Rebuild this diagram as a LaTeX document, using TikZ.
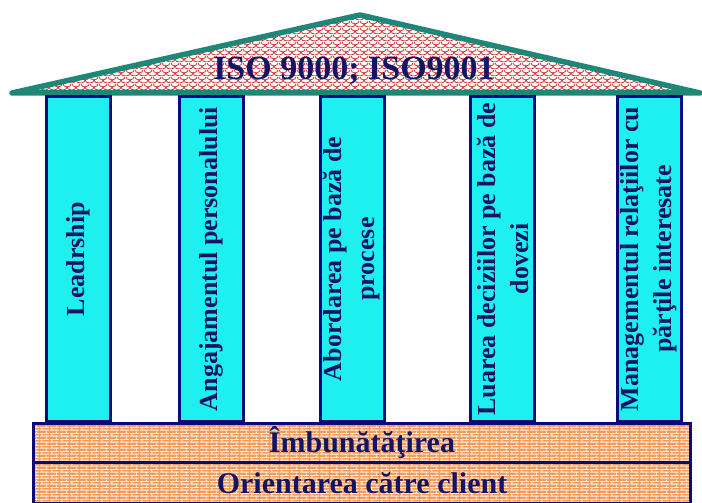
\documentclass[tikz,border=0pt]{standalone}
\usepackage{fontspec}
\setmainfont{Liberation Serif}
\usetikzlibrary{positioning, patterns.meta}
\definecolor{roofteal}{RGB}{30,135,120}
\definecolor{navy}{RGB}{10,10,120}
\definecolor{textnavy}{RGB}{20,20,100}
\definecolor{pillarcyan}{RGB}{30,240,240}
\definecolor{brickorange}{RGB}{245,155,90}
\definecolor{scalered}{RGB}{210,50,50}
\tikzdeclarepattern{
	name=scales, type=uncolored,
	bounding box={(0pt,0pt) and (9pt,7pt)},
	tile size={(9pt,7pt)},
	code={
		\draw[line width=0.9pt] (0pt,7pt) arc[start angle=180, end angle=360, x radius=4.5pt, y radius=3.5pt];
		\draw[line width=0.9pt] (-4.5pt,3.5pt) arc[start angle=180, end angle=360, x radius=4.5pt, y radius=3.5pt];
		\draw[line width=0.9pt] (4.5pt,3.5pt) arc[start angle=180, end angle=360, x radius=4.5pt, y radius=3.5pt];
	}
}
\tikzdeclarepattern{
	name=brickwall, type=uncolored,
	bounding box={(0pt,0pt) and (10pt,6pt)},
	tile size={(10pt,6pt)},
	code={
		\draw[line width=1pt] (0pt,1pt) -- (10pt,1pt) (0pt,4pt) -- (10pt,4pt)
			(2pt,1pt) -- (2pt,4pt) (7pt,4pt) -- (7pt,6pt) (7pt,0pt) -- (7pt,1pt);
	}
}
\tikzset{
	pillar/.style= {
		rectangle, rotate=90,
		draw=navy, line width=3pt,
		fill=pillarcyan,
		minimum width=325pt, minimum height=64pt,
		inner sep=1pt, align=center,
		text=textnavy, font=\bfseries\fontsize{26}{33}\selectfont
	},
	roof/.style= {
		draw=roofteal, line width=5.5pt, line join=round,
		pattern=scales, pattern color=scalered
	},
	foundation/.style= {
		rectangle, draw=navy, line width=3pt,
		preaction={fill=brickorange},
		pattern=brickwall, pattern color=white!85!brickorange,
		minimum width=657pt,
		text=textnavy, font=\bfseries\fontsize{30}{36}\selectfont
	},
	rooftext/.style= {
		anchor=base, text=textnavy,
		font=\bfseries\fontsize{34}{40}\selectfont
	},
}

\begin{document}
\begin{tikzpicture}[x=1pt, y=-1pt]
		\useasboundingbox (0,0) rectangle (702,503);
		\clip (0,0) rectangle (702,503);
		
		\coordinate (eaveL) at (12,93);
		\coordinate (ridge) at (360,15);
		\coordinate (eaveR) at (700,93);
		\draw[roof] (eaveL) -- (ridge) -- (eaveR) -- cycle;
		\node (iso) [rooftext] at (354,80) {ISO 9000; ISO9001};
		
		\node (leader) [pillar] at (78.5,259) {Leadrship};
		\node (people) [pillar] at (211.5,259) {Angajamentul personalului};
		\node (process) [pillar] at (352,259) {Abordarea pe bază de\\procese};
		\node (evidence) [pillar] at (502.5,259) {Luarea deciziilor pe bază de\\dovezi};
		\node (relations) [pillar] at (649,259) {Managementul relaţiilor cu\\părţile interesate};
		
		\node (improve) [foundation, minimum height=37pt] at (362,443) {Îmbunătăţirea};
		\node (client) [foundation, minimum height=41pt, below=-3pt of improve] {Orientarea către client};
\end{tikzpicture}
\end{document}
